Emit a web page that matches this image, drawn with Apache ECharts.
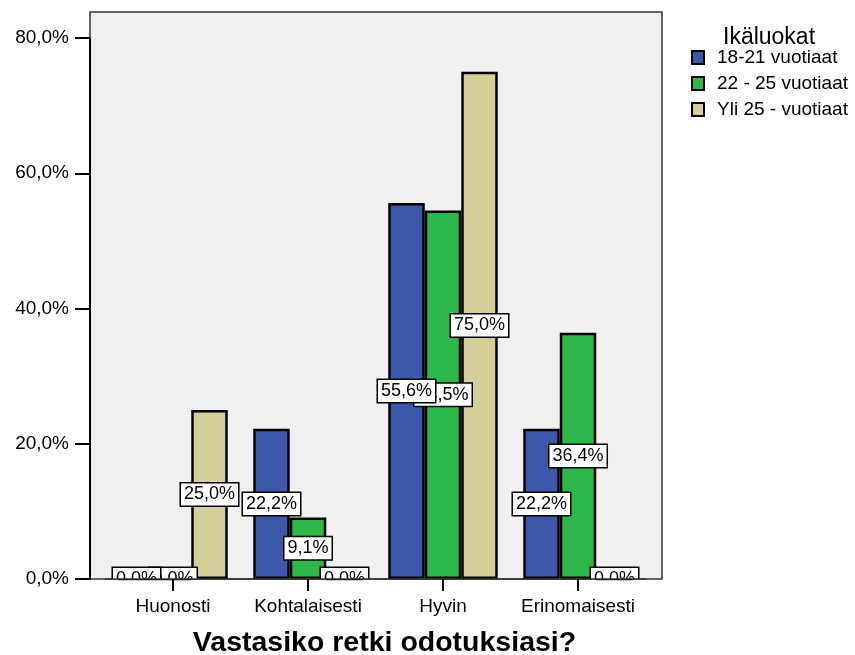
<!DOCTYPE html>
<html><head><meta charset="utf-8">
<script src="https://cdn.jsdelivr.net/npm/echarts@6/dist/echarts.min.js"></script>
<style>html,body{margin:0;padding:0;background:#fff}#c{width:855px;height:655px}</style>
</head><body><div id="c"></div>
<script>
const categories = ['Huonosti', 'Kohtalaisesti', 'Hyvin', 'Erinomaisesti'];
const seriesNames = ['18-21 vuotiaat', '22 - 25 vuotiaat', 'Yli 25 - vuotiaat'];
const age18to21 = [0.0, 22.2, 55.6, 22.2];
const age22to25 = [0.0, 9.1, 54.5, 36.4];
const ageOver25 = [25.0, 0.0, 75.0, 0.0];
const yMin = 0, yMax = 80, yStep = 20;
const legendTitle = 'Ikäluokat';
const xTitle = 'Vastasiko retki odotuksiasi?';
const colors = ['#3D58AA', '#2DB84A', '#D3CF98'];

const FONT = '"Liberation Sans", Arial, sans-serif';
const BAR_W = 36.5;
const fmt = v => v.toFixed(1).replace('.', ',') + '%';

const chart = echarts.init(document.getElementById('c'), null, {renderer: 'canvas'});
const seriesData = [age18to21, age22to25, ageOver25];
const nS = seriesData.length;

const barSeries = seriesNames.map((name, i) => ({
  name, type: 'bar', data: seriesData[i], z: 2,
  barWidth: BAR_W, barGap: '0%',
  itemStyle: {color: colors[i], borderColor: '#000', borderWidth: 2.5}
}));

const labelSeries = {
  type: 'custom', z: 6, clip: true, silent: true,
  data: categories.map((c, i) => [i, 0]),
  encode: {x: 0, y: 1},
  renderItem: (params, api) => {
    const ci = api.value(0);
    const children = [];
    for (let s = nS - 1; s >= 0; s--) {
      const v = seriesData[s][ci];
      const c = api.coord([ci, v / 2]);
      children.push({
        type: 'text',
        x: c[0] + (s - (nS - 1) / 2) * BAR_W,
        y: c[1],
        style: {
          text: fmt(v), align: 'center', verticalAlign: 'middle',
          font: '18px ' + FONT, fill: '#000',
          backgroundColor: '#fff', borderColor: '#000', borderWidth: 1.5, padding: [2, 3]
        }
      });
    }
    return {type: 'group', children};
  }
};

chart.setOption({
  animation: false,
  backgroundColor: '#ffffff',
  color: colors,
  textStyle: {fontFamily: FONT, color: '#000'},
  title: {
    text: legendTitle, left: 718, top: 21,
    textStyle: {fontFamily: FONT, fontSize: 23, fontWeight: 'normal', color: '#000'}
  },
  legend: {
    orient: 'vertical', left: 686, top: 43,
    itemWidth: 12, itemHeight: 13, itemGap: 7,
    icon: 'rect',
    data: seriesNames,
    textStyle: {fontFamily: FONT, fontSize: 19, color: '#000', padding: [0, 0, 0, 8]}
  },
  graphic: [
    {type: 'rect', z: -10, shape: {x: 90, y: 12, width: 572, height: 567},
     style: {fill: '#F0F0F0', stroke: '#333', lineWidth: 1.5}}
  ],
  grid: {left: 105.5, right: 209.5, top: 38, bottom: 76, containLabel: false, outerBoundsMode: 'none'},
  xAxis: {
    type: 'category', data: categories, z: 20,
    axisLine: {show: true, lineStyle: {color: '#333', width: 1.5}},
    axisTick: {show: true, alignWithLabel: true, length: 12, lineStyle: {color: '#000', width: 2}},
    axisLabel: {show: true, interval: 0, fontFamily: FONT, fontSize: 19, color: '#000', margin: 18},
    name: xTitle, nameLocation: 'middle', nameGap: 50,
    nameTextStyle: {fontFamily: FONT, fontSize: 28.5, fontWeight: 'bold', color: '#000', padding: [0, 0, 0, 18]}
  },
  yAxis: {
    type: 'value', min: yMin, max: yMax, interval: yStep, offset: 15.5, z: 20,
    splitLine: {show: false},
    axisLine: {show: true, lineStyle: {color: '#000', width: 2}},
    axisTick: {show: true, length: 15, lineStyle: {color: '#000', width: 2}},
    axisLabel: {fontFamily: FONT, fontSize: 19, color: '#000', margin: 21, formatter: v => fmt(v)}
  },
  series: barSeries.concat([labelSeries])
});
</script></body></html>
